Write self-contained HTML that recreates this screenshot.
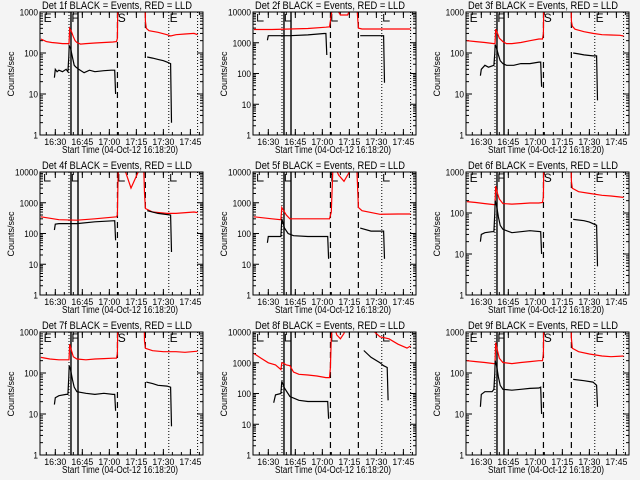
<!DOCTYPE html>
<html><head><meta charset="utf-8"><style>
html,body{margin:0;padding:0;background:#f4f4f4;}
svg{display:block;font-family:"Liberation Sans",sans-serif;}
</style></head><body>
<svg id="chart" width="640" height="480" viewBox="0 0 640 480" xmlns="http://www.w3.org/2000/svg">
<rect width="640" height="480" fill="#f4f4f4"/>
</svg>
<script>
// time in minutes after 16:22:10; values in counts/sec; null = gap; 20000 = off-scale
const xTickLabels = ["16:30","16:45","17:00","17:15","17:30","17:45"];
const xTickTimes = [8, 23, 38, 53, 68, 83];
const markerDotted = [15.6, 71, 87];
const markerSolid = [16.7, 20.6];
const markerDashed = [42.5, 58];
const panelMax = [3,4,3,4,4,3,3,4,3];

const det1RedT = [0,3,6,9,12,15,15.6,16,17,18,19,20,22,25,30,35,40,42,42.5,43,null,57.5,58,58.5,60,65,70,72,75,80,85,87];
const det1RedV = [220,190,180,175,170,170,170,400,330,250,200,180,165,170,175,180,185,190,230,20000,null,20000,600,400,350,320,280,260,280,290,300,280];
const det1BlkT = [7.5,8,9,10,12,14,15,15.5,15.7,16.5,17.5,18.5,19.5,21,24,27,30,35,39,41,41.5,null,59,62,65,68,70,72,72.5];
const det1BlkV = [25,40,35,38,35,40,35,80,150,130,80,50,45,40,33,38,35,37,38,38,10,null,80,75,70,65,60,55,2];

const det2RedT = [0,10,20,30,40,42,43,44,48,52,55,57,58,60,70,80,87];
const det2RedV = [2700,2700,2800,2900,3200,3300,8000,20000,8000,8000,20000,20000,3000,2800,2800,2800,2800];
const det2BlkT = [7.5,8,20,30,39,40,40.5,null,59,65,72,72.5];
const det2BlkV = [1200,1700,1700,1800,2000,2000,400,null,1700,1700,1700,50];

const det3RedT = [0,5,10,15,15.6,16,17,18,20,22,25,30,35,40,42,42.5,43,null,57.5,58,58.5,60,65,70,75,80,85,87];
const det3RedV = [200,190,180,170,170,380,300,230,190,170,170,180,200,220,220,300,20000,null,20000,600,450,380,330,300,280,275,270,260];
const det3BlkT = [7.5,8,10,12,15,15.5,15.7,16.5,17.5,18.5,20,22,26,30,35,40,41,41.5,null,59,62,65,70,72,72.5];
const det3BlkV = [28,40,50,45,50,100,160,130,90,65,55,50,50,55,55,60,60,15,null,100,95,90,85,85,7];

const det4RedT = [0,10,20,30,42,42.5,43,47,50,54,57,57.5,58,62,70,75,85,87];
const det4RedV = [350,280,270,300,350,400,20000,10000,3000,10000,20000,2000,650,500,450,450,500,480];
const det4BlkT = [7.5,8,10,20,30,41,41.5,null,59,65,72,72.5];
const det4BlkV = [130,200,210,210,240,260,60,null,550,450,400,25];

const det5RedT = [0,10,15,15.5,18,20,30,42,43,44,47,50,53,57,58,60,70,80,87];
const det5RedV = [350,300,280,700,400,300,300,300,500,20000,8000,5000,10000,20000,700,550,420,430,430];
const det5BlkT = [7.5,8,15,15.5,17,19,22,30,41,41.5,null,59,65,72,72.5];
const det5BlkV = [50,80,80,300,150,100,85,80,80,15,null,150,120,120,15];

const det6RedT = [0,5,10,15,15.6,16,17,18,20,25,30,35,40,42,42.5,43,null,57.5,58,58.5,62,68,75,80,87];
const det6RedV = [190,180,170,160,160,450,300,220,170,165,170,175,175,180,250,20000,null,20000,600,400,330,300,270,260,240];
const det6BlkT = [7.5,8,10,14,15,15.5,15.7,16.5,17.5,18.5,20,25,30,35,41,41.5,null,59,65,68,72,72.5];
const det6BlkV = [20,30,33,35,35,100,200,150,80,50,40,33,35,37,35,10,null,70,65,60,50,5];

const det7RedT = [0,5,10,15,15.6,16,17,18,20,25,30,35,40,42,42.5,43,null,57,57.5,58,62,68,75,80,87];
const det7RedV = [240,220,210,210,210,500,350,250,220,210,220,225,230,230,300,20000,null,20000,600,400,350,330,330,320,340];
const det7BlkT = [7.5,8,10,14,15,15.5,15.7,16.5,17.5,18.5,20,25,30,35,40,41,41.5,null,58.5,62,65,70,72,72.5];
const det7BlkV = [17,25,28,30,30,80,150,120,70,45,35,32,30,32,30,30,12,null,60,55,50,48,45,5];

const det8RedT = [0,4,8,12,15,15.5,16,18,20,22,25,30,35,40,42,42.5,43,44,46,48,50,51,null,66,67,70,75,80,85,87];
const det8RedV = [2000,1400,1000,850,600,1000,1000,850,800,500,420,400,370,330,330,700,7000,20000,8000,6000,9000,20000,null,20000,10000,7000,6000,4000,3000,3500];
const det8BlkT = [11,12,15,15.5,17,20,25,30,35,40,41,41.5,null,61,65,70,72,74,74.5];
const det8BlkV = [50,90,100,250,150,80,60,55,55,55,55,15,null,2500,1500,1000,800,700,60];

const det9RedT = [0,5,10,15,15.6,16,17,18,20,25,30,35,40,42,42.5,43,null,57.5,58,58.5,62,68,75,80,87];
const det9RedV = [200,190,180,170,170,550,350,230,180,170,180,190,200,200,300,20000,null,20000,700,400,330,290,260,250,260];
const det9BlkT = [7.5,8,10,14,15,15.5,15.7,16.5,17.5,18.5,20,25,30,35,40,41,41.5,null,59,65,70,72,72.5];
const det9BlkV = [15,30,35,35,40,100,200,150,80,50,40,38,40,42,43,45,10,null,70,65,60,50,15];

const redTs = [det1RedT,det2RedT,det3RedT,det4RedT,det5RedT,det6RedT,det7RedT,det8RedT,det9RedT];
const redVs = [det1RedV,det2RedV,det3RedV,det4RedV,det5RedV,det6RedV,det7RedV,det8RedV,det9RedV];
const blkTs = [det1BlkT,det2BlkT,det3BlkT,det4BlkT,det5BlkT,det6BlkT,det7BlkT,det8BlkT,det9BlkT];
const blkVs = [det1BlkV,det2BlkV,det3BlkV,det4BlkV,det5BlkV,det6BlkV,det7BlkV,det8BlkV,det9BlkV];

const NS = "http://www.w3.org/2000/svg";
const svg = document.getElementById("chart");
const T0 = -0.5, T1 = 90;
function mk(tag, attrs, parent){
  const e = document.createElementNS(NS, tag);
  for (const k in attrs) e.setAttribute(k, attrs[k]);
  parent.appendChild(e);
  return e;
}
for (let p = 0; p < 9; p++){
  const col = p % 3, row = Math.floor(p / 3);
  const ox = col * 213, oy = row * 160;
  const L = ox + 40, R = ox + 203, Tp = oy + 12, B = oy + 135;
  const dec = panelMax[p];
  const xs = t => L + (t - T0) / (T1 - T0) * (R - L);
  const ys = v => B - Math.log10(v) / dec * (B - Tp);
  const g = mk("g", {}, svg);
  
  
  const cp = mk("clipPath", {id: "cp" + p}, g);
  mk("rect", {x: L, y: Tp, width: R - L, height: B - Tp}, cp);

  const title = mk("text", {x: ox + 117, y: oy + 9, "text-anchor": "middle", "font-size": 11, textLength: 150, lengthAdjust: "spacingAndGlyphs"}, g);
  title.textContent = "Det " + (p+1) + "f BLACK = Events, RED = LLD";
  
  

  const yl = mk("text", {x: 0, y: 0, "text-anchor": "middle", "font-size": 9, transform: "translate(" + (ox + 14) + "," + (oy + 74) + ") rotate(-90)"}, g);
  yl.textContent = "Counts/sec";
  
  

  const xl = mk("text", {x: ox + 120, y: oy + 153, "text-anchor": "middle", "font-size": 10, textLength: 116, lengthAdjust: "spacingAndGlyphs"}, g);
  xl.textContent = "Start Time (04-Oct-12 16:18:20)";
  
  

  for (let d = 0; d <= dec; d++){
    const y = ys(Math.pow(10, d));
    mk("line", {x1: L, x2: L + 6, y1: y, y2: y, stroke: "#000"}, g);
    mk("line", {x1: R, x2: R - 6, y1: y, y2: y, stroke: "#000"}, g);
    const s = String(Math.pow(10, d));
    const tl = mk("text", {x: L - 2, y: y + 3.5, "text-anchor": "end", "font-size": 9.5, textLength: s.length * 4.6, lengthAdjust: "spacingAndGlyphs"}, g);
    tl.textContent = s;
    
    
    if (d < dec) for (let m = 2; m <= 9; m++){
      const ym = ys(m * Math.pow(10, d));
      mk("line", {x1: L, x2: L + 3, y1: ym, y2: ym, stroke: "#000"}, g);
      mk("line", {x1: R, x2: R - 3, y1: ym, y2: ym, stroke: "#000"}, g);
    }
  }
  for (let i = 0; i < xTickTimes.length; i++){
    const x = xs(xTickTimes[i]);
    mk("line", {x1: x, x2: x, y1: B, y2: B - 6, stroke: "#000"}, g);
    mk("line", {x1: x, x2: x, y1: Tp, y2: Tp + 6, stroke: "#000"}, g);
    const tl = mk("text", {x: x, y: oy + 145, "text-anchor": "middle", "font-size": 9.5, textLength: 22, lengthAdjust: "spacingAndGlyphs"}, g);
    tl.textContent = xTickLabels[i];
    
    
  }
  for (let t = 3; t < T1; t += 5){
    const x = xs(t);
    mk("line", {x1: x, x2: x, y1: B, y2: B - 3, stroke: "#000"}, g);
    mk("line", {x1: x, x2: x, y1: Tp, y2: Tp + 3, stroke: "#000"}, g);
  }
  markerDotted.forEach(t => mk("line", {x1: xs(t), x2: xs(t), y1: Tp, y2: B, stroke: "#000", "stroke-dasharray": "1,2"}, g));
  markerSolid.forEach(t => mk("line", {x1: xs(t), x2: xs(t), y1: Tp, y2: B, stroke: "#000", "stroke-width": 1.4}, g));
  markerDashed.forEach(t => mk("line", {x1: xs(t), x2: xs(t), y1: Tp, y2: B, stroke: "#000", "stroke-dasharray": "6,4", "stroke-width": 1.2}, g));
  const letters = ["E","F","S","E"], letterT = [1.5, 16.9, 42.7, 71.5];
  letters.forEach((s, i) => {
    const lt = mk("text", {x: xs(letterT[i]), y: Tp + 10, "font-size": 12}, g);
    lt.textContent = dec === 3 ? s : "";
    
    
    if (dec !== 3) mk("path", {d: "M" + (xs(letterT[i]) + 1) + "," + (Tp + 2) + "v7h6", fill: "none", stroke: "#000"}, g);
  });

  function series(ts, vs, color, name){
    let d = "", pen = false;
    for (let i = 0; i < ts.length; i++){
      if (ts[i] === null){ pen = false; continue; }
      d += (pen ? "L" : "M") + xs(ts[i]).toFixed(1) + "," + ys(vs[i]).toFixed(1);
      pen = true;
    }
    const path = mk("path", {d: d, fill: "none", stroke: color, "stroke-width": 1.2, "clip-path": "url(#cp" + p + ")"}, g);
    
    
  }
  series(redTs[p], redVs[p], "#ff0000", "lld-red-series");
  series(blkTs[p], blkVs[p], "#000000", "events-black-series");

  const box = mk("rect", {x: L, y: Tp, width: R - L, height: B - Tp, fill: "none", stroke: "#000"}, g);
  
  
}
</script>
</body></html>
